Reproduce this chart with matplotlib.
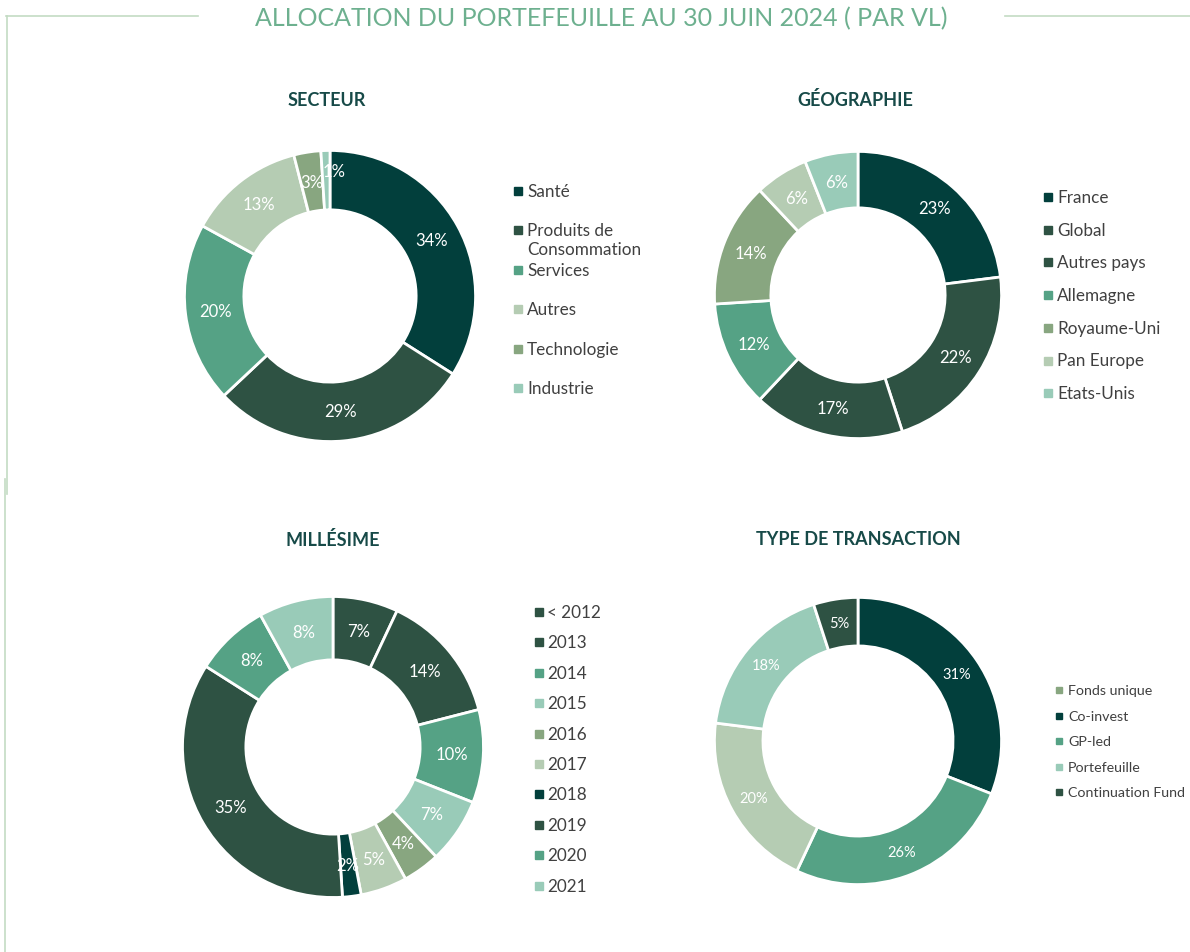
import matplotlib
matplotlib.use("Agg")
import matplotlib.pyplot as plt
from matplotlib.lines import Line2D

# palette
TEAL = "#023F3C"
DARK = "#2E5243"
MED = "#55A285"
SAGE_L = "#B5CCB3"
SAGE = "#88A680"
MINT = "#99CBB8"

# data
secteur_labels = ["Santé", "Produits de\nConsommation", "Services", "Autres", "Technologie", "Industrie"]
secteur_values = [34, 29, 20, 13, 3, 1]
secteur_colors = [TEAL, DARK, MED, SAGE_L, SAGE, MINT]

geo_labels = ["France", "Global", "Autres pays", "Allemagne", "Royaume-Uni", "Pan Europe", "Etats-Unis"]
geo_values = [23, 22, 17, 12, 14, 6, 6]
geo_colors = [TEAL, DARK, DARK, MED, SAGE, SAGE_L, MINT]

mill_labels = ["< 2012", "2013", "2014", "2015", "2016", "2017", "2018", "2019", "2020", "2021"]
mill_values = [7, 14, 10, 7, 4, 5, 2, 35, 8, 8]
mill_colors = [DARK, DARK, MED, MINT, SAGE, SAGE_L, TEAL, DARK, MED, MINT]

# transaction type: slices as drawn, legend as printed
type_values = [31, 26, 20, 18, 5]
type_colors = [TEAL, MED, SAGE_L, MINT, DARK]
type_legend = ["Fonds unique", "Co-invest", "GP-led", "Portefeuille", "Continuation Fund"]
type_legend_colors = [SAGE, TEAL, MED, MINT, DARK]

W, H = 1190, 953
fig = plt.figure(figsize=(W / 100, H / 100), dpi=100)
fig.patch.set_facecolor("white")

bg = fig.add_axes([0, 0, 1, 1])
bg.set_xlim(0, W)
bg.set_ylim(H, 0)
bg.axis("off")

LINE = "#C3DBC3"
bg.add_line(Line2D([6, 198], [17, 17], color=LINE, lw=1.2))
bg.add_line(Line2D([1005, W], [17, 17], color=LINE, lw=1.2))
bg.add_line(Line2D([7, 7], [17, 495], color=LINE, lw=1.2))
bg.add_line(Line2D([5, 5], [480, H], color=LINE, lw=1.2))

bg.text(601, 19, "ALLOCATION DU PORTEFEUILLE AU 30 JUIN 2024 ( PAR VL)", family="Lato",
        fontsize=18, color="#6DB08F", ha="center", va="center", weight="normal")

TITLE_C = "#174A48"
TXT = "#404040"


def donut(cx, cy, r_out, r_in, values, colors, title, tx, ty, pct_size=12):
    ax = fig.add_axes([(cx - r_out) / W, 1 - (cy + r_out) / H, 2 * r_out / W, 2 * r_out / H])
    width = (r_out - r_in) / r_out
    _, _, pcts = ax.pie(values, colors=colors, startangle=90, counterclock=False, radius=1,
                        wedgeprops=dict(width=width, edgecolor="white", linewidth=2),
                        autopct=lambda p: f"{p:.0f}%", pctdistance=1 - width / 2,
                        textprops=dict(color="white", fontsize=pct_size, family="Lato"))
    ax.set_xlim(-1.01, 1.01)
    ax.set_ylim(-1.01, 1.01)
    ax.set_aspect("equal")
    bg.text(tx, ty, title, family="Lato", weight="bold", fontsize=13, color=TITLE_C,
            ha="center", va="center")
    return pcts


def legend(labels, colors, mx, tx, y0, step, size=12.3, ms=5.5, line_h=19):
    y = y0
    for lab, col in zip(labels, colors):
        bg.plot(mx, y, marker="s", ms=ms, color=col, mec=col)
        for k, line in enumerate(lab.split("\n")):
            bg.text(tx, y + k * line_h, line, family="Lato", fontsize=size, color=TXT,
                    ha="left", va="center")
        y += step


pcts = donut(330, 297, 147, 87, secteur_values, secteur_colors, "SECTEUR", 327, 100)
# the tiny 1% label sits just right of the top, as in the source
pcts[-1].set_position((0.03, 0.86))
legend(secteur_labels, secteur_colors, 518, 527, 192, 39.4)

donut(858, 296, 145, 88, geo_values, geo_colors, "GÉOGRAPHIE", 855, 100)
legend(geo_labels, geo_colors, 1048, 1057, 198, 32.7)

donut(333, 748, 152, 88, mill_values, mill_colors, "MILLÉSIME", 333, 540)
legend(mill_labels, mill_colors, 539, 547, 613, 30.4)

donut(858, 742, 145, 96, type_values, type_colors, "TYPE DE TRANSACTION", 858, 540, pct_size=10.5)
legend(type_legend, type_legend_colors, 1059, 1068, 691, 25.6, size=10.3, ms=4.5)

fig.savefig("out.png", dpi=100, facecolor="white")
